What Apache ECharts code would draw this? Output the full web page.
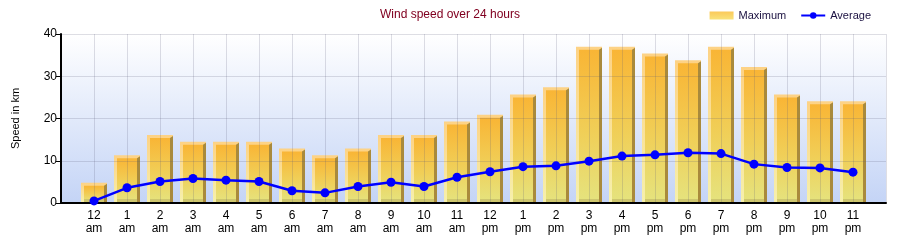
<!DOCTYPE html>
<html>
<head>
<meta charset="utf-8">
<script src="https://cdn.jsdelivr.net/npm/echarts@6/dist/echarts.min.js"></script>
<style>
html,body{margin:0;padding:0;background:#fff;}
#chart{width:900px;height:240px;}
</style>
</head>
<body>
<div id="chart"></div>
<script>
// ---- data ----
const hourLabels = ['12','1','2','3','4','5','6','7','8','9','10','11','12','1','2','3','4','5','6','7','8','9','10','11'];
const periodLabels = ['am','am','am','am','am','am','am','am','am','am','am','am','pm','pm','pm','pm','pm','pm','pm','pm','pm','pm','pm','pm'];
const maximumSpeed = [4.8, 11.3, 16.1, 14.5, 14.5, 14.5, 12.9, 11.3, 12.9, 16.1, 16.1, 19.3, 20.9, 25.7, 27.4, 37.0, 37.0, 35.4, 33.8, 37.0, 32.2, 25.7, 24.1, 24.1];
const averageSpeed = [0.5, 3.6, 5.1, 5.8, 5.4, 5.1, 2.9, 2.4, 3.9, 4.9, 3.9, 6.1, 7.4, 8.6, 8.8, 9.9, 11.1, 11.4, 11.9, 11.7, 9.2, 8.4, 8.3, 7.3];
const yTicks = [0, 10, 20, 30, 40];

const G = echarts.graphic;
const chart = echarts.init(document.getElementById('chart'), null, {renderer: 'canvas'});

const maxData = maximumSpeed.map((v, i) => [i, v]);
const avgData = averageSpeed.map((v, i) => [i, v]);

function renderBar(params, api) {
  const x = api.value(0), v = api.value(1);
  const top = api.coord([x, v]);
  const base = api.coord([x, 0]);
  const band = api.size([1, 0])[0];
  const w = Math.round(band * 0.79);
  const L = Math.round(top[0] - w / 2);
  const R = L + w;
  const T = top[1];
  const B = base[1] - 1;
  const d = 3;
  return {
    type: 'group',
    children: [
      { type: 'rect', shape: {x: L, y: T, width: w, height: B - T},
        style: {fill: new G.LinearGradient(0, 0, 0, 1, [
          {offset: 0, color: '#fdd285'}, {offset: 1, color: '#f6f0ac'}])} },
      { type: 'rect', shape: {x: L + d, y: T + d, width: w - 2 * d, height: B - T - d},
        style: {fill: new G.LinearGradient(0, 0, 0, 1, [
          {offset: 0, color: '#f9b535'}, {offset: 0.55, color: '#f0cf58'}, {offset: 1, color: '#e5e37e'}])} },
      { type: 'polygon', shape: {points: [[R - d, T + d], [R, T + 1], [R, B], [R - d, B]]},
        style: {fill: '#a98a3c'} },
      { type: 'rect', shape: {x: L + d, y: B - 3, width: w - 2 * d, height: 3},
        style: {fill: '#c8bf6a', opacity: 0.8} }
    ]
  };
}

const option = {
  animation: false,
  backgroundColor: '#ffffff',
  textStyle: {fontFamily: 'Liberation Sans, Arial, sans-serif'},
  title: {
    text: 'Wind speed over 24 hours',
    left: 'center', top: 9, padding: 0,
    textStyle: {fontSize: 12, fontWeight: 'normal', color: '#800020', fontFamily: 'Liberation Sans, Arial, sans-serif'}
  },
  legend: {
    right: 14, top: 0,
    padding: [10, 15, 11, 22],
    backgroundColor: '#ffffff',
    itemWidth: 24, itemHeight: 8, itemGap: 14,
    textStyle: {fontSize: 11, color: '#1a1040', fontFamily: 'Liberation Sans, Arial, sans-serif'},
    data: [
      {name: 'Maximum', icon: 'rect', itemStyle: {color: new G.LinearGradient(0, 0, 0, 1, [
        {offset: 0, color: '#fbc95a'}, {offset: 1, color: '#f8e27a'}])}},
      {name: 'Average'}
    ]
  },
  grid: {
    left: 61, right: 14, top: 34, bottom: 37,
    show: true, borderWidth: 0,
    backgroundColor: new G.LinearGradient(0, 0, 0, 1, [
      {offset: 0, color: '#ffffff'}, {offset: 1, color: '#c4d4f6'}])
  },
  xAxis: {
    type: 'value', min: -1, max: 24, interval: 1, z: 3,
    axisLine: {show: true, onZero: false, lineStyle: {color: '#000', width: 2}},
    axisTick: {show: false},
    splitLine: {show: true, lineStyle: {color: 'rgba(90,90,120,0.2)', width: 1}},
    axisLabel: {
      margin: 6, fontSize: 12, lineHeight: 13, color: '#000',
      showMinLabel: true, showMaxLabel: true,
      formatter: function (val) {
        const i = Math.round(val);
        if (i < 0 || i >= hourLabels.length) return '';
        return hourLabels[i] + '\n' + periodLabels[i];
      }
    }
  },
  yAxis: {
    type: 'value', min: yTicks[0], max: yTicks[yTicks.length - 1], interval: 10, z: 3,
    name: 'Speed in km', nameLocation: 'middle', nameRotate: 90, nameGap: 40,
    nameTextStyle: {fontSize: 11, color: '#000'},
    axisLine: {show: true, onZero: false, lineStyle: {color: '#000', width: 2}},
    axisTick: {show: true, length: 5, lineStyle: {color: '#000', width: 1}},
    splitLine: {show: true, lineStyle: {color: 'rgba(90,90,120,0.2)', width: 1}},
    axisLabel: {fontSize: 12, color: '#000', margin: 4}
  },
  series: [
    {
      name: 'Maximum', type: 'custom', z: 2,
      renderItem: renderBar,
      encode: {x: 0, y: 1},
      itemStyle: {color: '#fbc95a'},
      data: maxData
    },
    {
      name: 'Average', type: 'line', z: 5,
      data: avgData,
      symbol: 'circle', symbolSize: 9,
      lineStyle: {color: '#0000ff', width: 2.5},
      itemStyle: {color: '#0000ff'}
    }
  ]
};
chart.setOption(option);
</script>
</body>
</html>
